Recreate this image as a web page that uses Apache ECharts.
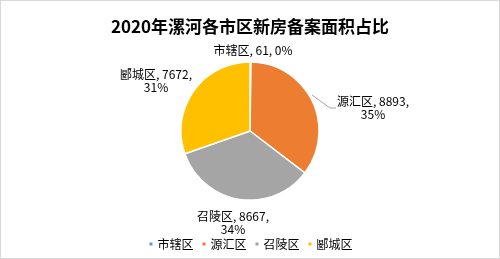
<!DOCTYPE html>
<html><head><meta charset="utf-8">
<script src="https://cdn.jsdelivr.net/npm/echarts@6/dist/echarts.min.js"></script>
<style>html,body{margin:0;padding:0;background:#fff}#c{width:498px;height:257px;border:1px solid #d9d9d9}</style>
</head><body><div id="c"></div>
<script>
const categories = ['市辖区','源汇区','召陵区','郾城区'];
const values = [61, 8893, 8667, 7672];
const colors = ['#5B9BD5','#ED7D31','#A5A5A5','#FFC000'];
const titleText = '2020年漯河各市区新房备案面积占比';

const chart = echarts.init(document.getElementById('c'));
const font = '"Noto Sans CJK SC", "Liberation Sans", sans-serif';
// label anchor placement (centre of each label block), in px
const labelPlace = [[252,49],[372,107],[232,222],[155,80]];
chart.setOption({
  animation:false,
  title:{text:titleText,left:'center',top:12,textStyle:{fontSize:17,fontWeight:'bold',color:'#000',fontFamily:font}},
  legend:{top:232,left:'center',itemWidth:5,itemHeight:5,itemGap:7,icon:'rect',
    textStyle:{fontSize:12,color:'#000',fontFamily:font,padding:[0,0,0,-1]},data:categories},
  series:[{
    type:'pie',center:[249,130],radius:69,startAngle:90,clockwise:true,
    percentPrecision:0,
    itemStyle:{borderColor:'#fff',borderWidth:1.5},
    label:{show:true,position:'outside',fontSize:12,color:'#000',fontFamily:font,lineHeight:13,align:'center',
      formatter:p=> p.dataIndex===0 ? `${p.name}, ${p.value}, ${p.percent}%` : `${p.name}, ${p.value},\n${p.percent}%`},
    labelLine:{show:true,lineStyle:{color:'#A5A5A5',width:1}},
    labelLayout:function(params){
      const pl = labelPlace[params.dataIndex];
      const r = {x:pl[0],y:pl[1],align:'center',verticalAlign:'middle'};
      if(params.dataIndex===1){ r.labelLinePoints=[[311,94],[329,107],[335,107]]; }
      return r;
    },
    data:categories.map((n,i)=>({name:n,value:values[i],itemStyle:{color:colors[i]},
      labelLine:{show:i===1}}))
  }]
});
</script></body></html>
